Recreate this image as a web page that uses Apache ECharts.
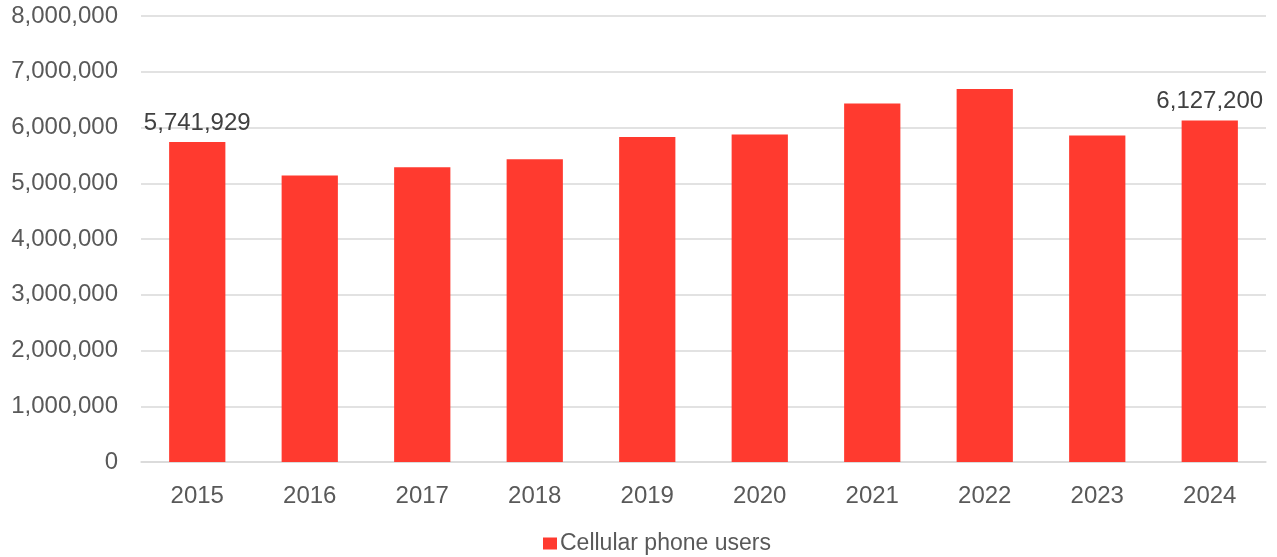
<!DOCTYPE html>
<html>
<head>
<meta charset="utf-8">
<script src="https://cdn.jsdelivr.net/npm/echarts@6/dist/echarts.min.js"></script>
<style>
  html, body { margin: 0; padding: 0; background: #fff; }
  #chart { width: 1277px; height: 557px; }
</style>
</head>
<body>
<div id="chart"></div>
<script>
const years = ['2015', '2016', '2017', '2018', '2019', '2020', '2021', '2022', '2023', '2024']
const users = [5741929, 5140000, 5285000, 5430000, 5830000, 5875000, 6430000, 6690000, 5855000, 6127200]
const labelledYears = ['2015', '2024']
const seriesName = 'Cellular phone users'

const fmt = v => Number(v).toLocaleString('en-US')
const fontFamily = '"Liberation Sans", Arial, sans-serif'

const chart = echarts.init(document.getElementById('chart'))
chart.setOption({
  animation: false,
  textStyle: { fontFamily },
  grid: { left: 141, right: 11, top: 16, bottom: 95, containLabel: false },
  legend: {
    left: 538,
    top: 527,
    itemWidth: 14,
    itemHeight: 12,
    itemGap: 10,
    textStyle: { fontSize: 23, color: '#595959', fontFamily, padding: [2, 0, 0, -2] },
    data: [{ name: seriesName, icon: 'rect' }]
  },
  xAxis: {
    type: 'category',
    data: years,
    axisTick: { show: false },
    axisLine: { lineStyle: { color: '#d9d9d9', width: 1.5 } },
    axisLabel: { fontSize: 24, color: '#595959', margin: 22 }
  },
  yAxis: {
    type: 'value',
    min: 0,
    max: 8000000,
    interval: 1000000,
    axisLine: { show: false },
    axisTick: { show: false },
    axisLabel: { fontSize: 24, color: '#595959', margin: 23, formatter: fmt },
    splitLine: { lineStyle: { color: '#d9d9d9', width: 1.5 } }
  },
  series: [{
    name: seriesName,
    type: 'bar',
    barWidth: '50%',
    itemStyle: { color: '#ff3a2f' },
    data: users.map((v, i) => ({
      value: v,
      label: {
        show: labelledYears.includes(years[i]),
        position: 'top',
        distance: 7,
        fontSize: 24,
        color: '#404040',
        formatter: p => fmt(p.value)
      }
    }))
  }]
})
</script>
</body>
</html>
